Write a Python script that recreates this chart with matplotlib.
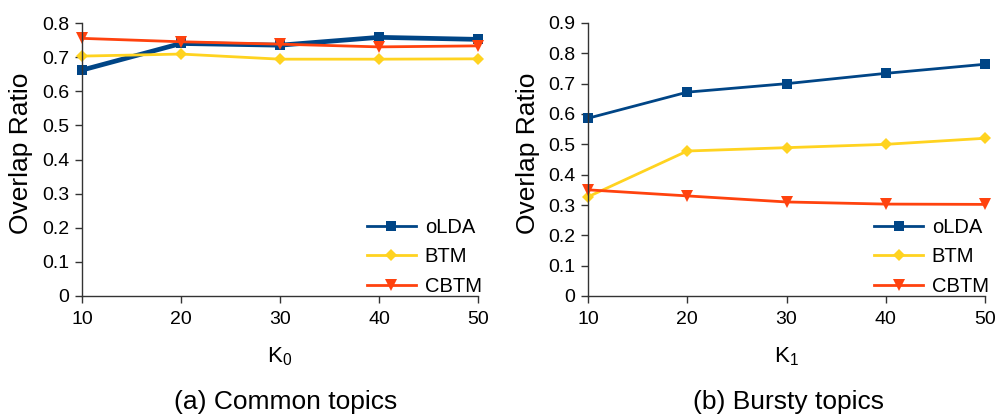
import matplotlib
matplotlib.use("Agg")
import matplotlib.pyplot as plt
from matplotlib.lines import Line2D

plt.rcParams['font.family'] = ['Liberation Sans', 'DejaVu Sans']
plt.rcParams['mathtext.default'] = 'regular'

# Number of topics
k_values = [10, 20, 30, 40, 50]

# (a) Common topics
common_olda = [0.662, 0.740, 0.735, 0.758, 0.752]
common_btm = [0.703, 0.709, 0.694, 0.694, 0.695]
common_cbtm = [0.755, 0.745, 0.738, 0.730, 0.733]

# (b) Bursty topics
bursty_olda = [0.586, 0.672, 0.700, 0.734, 0.764]
bursty_btm = [0.327, 0.478, 0.489, 0.500, 0.520]
bursty_cbtm = [0.350, 0.330, 0.310, 0.303, 0.302]

series_names = ['oLDA', 'BTM', 'CBTM']
colors = ['#004586', '#FFD320', '#FF420E']
markers = ['s', 'D', 'v']
marker_sizes = [7, 6.5, 9]

fig = plt.figure(figsize=(9.97, 4.17), dpi=100)
W, H = 997, 417


def make_axes(x0, x1, y_top, y_bottom):
    return fig.add_axes([x0 / W, 1 - y_bottom / H, (x1 - x0) / W, (y_bottom - y_top) / H])


def fig_text(x, y, s, **kw):
    fig.text(x / W, 1 - y / H, s, ha='center', va='center', **kw)


ax1 = make_axes(82, 478, 23, 296)
ax2 = make_axes(588, 985, 23, 296)

panels = [
    (ax1, [common_olda, common_btm, common_cbtm], 0.8, 'K$_0$', '(a) Common topics',
     [3.4, 2.0, 2.0], 21, 280, 286),
    (ax2, [bursty_olda, bursty_btm, bursty_cbtm], 0.9, 'K$_1$', '(b) Bursty topics',
     [2.0, 2.0, 2.0], 528, 786, 788),
]

for ax, data, ymax, xlab, title, lws, ylab_x, xlab_x, title_x in panels:
    for vals, name, c, m, ms, lw in zip(data, series_names, colors, markers, marker_sizes, lws):
        ax.plot(k_values, vals, color=c, marker=m, markersize=ms, linewidth=lw,
                clip_on=False, markeredgewidth=0)
    ax.set_xlim(10, 50)
    ax.set_ylim(0, ymax)
    ax.set_xticks(k_values)
    ticks = [round(0.1 * i, 1) for i in range(int(round(ymax * 10)) + 1)]
    ax.set_yticks(ticks)
    ax.set_yticklabels(['0' if t == 0 else f'{t:.1f}' for t in ticks])
    for s in ['top', 'right']:
        ax.spines[s].set_visible(False)
    for s in ['left', 'bottom']:
        ax.spines[s].set_color('#333333')
        ax.spines[s].set_linewidth(1.0)
    ax.tick_params(axis='both', direction='out', length=5, width=1.0, color='#333333',
                   labelsize=14, pad=4)
    ax.tick_params(axis='x', pad=6)

    fig_text(ylab_x, 153, 'Overlap Ratio', rotation=90, fontsize=19)
    fig_text(xlab_x, 357, xlab, fontsize=16)
    fig_text(title_x, 402, title, fontsize=19)

    handles = [Line2D([], [], color=c, marker=m, markersize=ms, linewidth=2.0, markeredgewidth=0)
               for c, m, ms in zip(colors, markers, marker_sizes)]
    ax.legend(handles, series_names, loc='lower right', bbox_to_anchor=(1.045, -0.05),
              frameon=False, fontsize=14.5, handlelength=2.4, handletextpad=0.45,
              labelspacing=0.52, borderaxespad=0.3)

fig.savefig('out.png', dpi=100)
